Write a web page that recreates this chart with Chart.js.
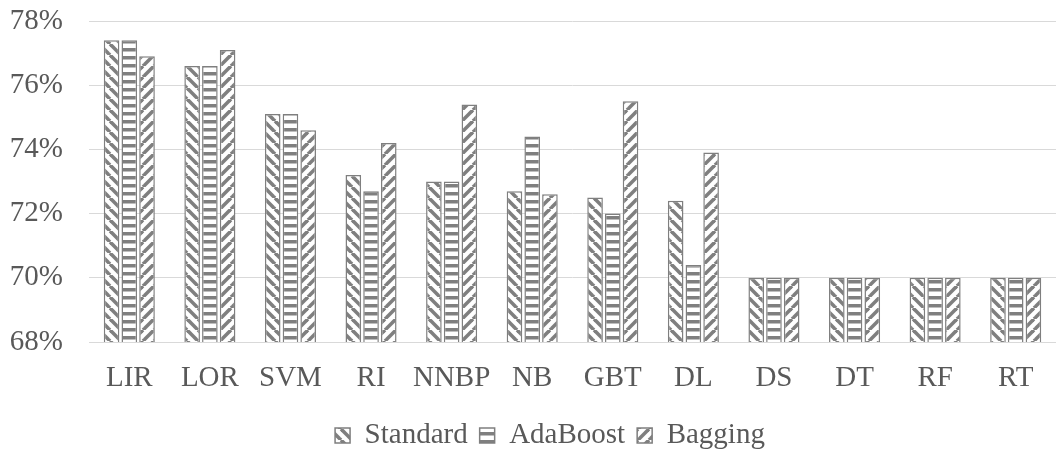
<!DOCTYPE html>
<html>
<head>
<meta charset="utf-8">
<script src="https://cdn.jsdelivr.net/npm/chart.js@4.4.0/dist/chart.umd.min.js"></script>
<style>
  html, body { margin: 0; padding: 0; background: #fff; }
  #wrap { width: 1056px; height: 450px; }
</style>
</head>
<body>
<div id="wrap"><canvas id="chart"></canvas></div>
<script>
const categories = ['LIR', 'LOR', 'SVM', 'RI', 'NNBP', 'NB', 'GBT', 'DL', 'DS', 'DT', 'RF', 'RT'];
const standard = [77.4, 76.6, 75.1, 73.2, 73.0, 72.7, 72.5, 72.4, 70.0, 70.0, 70.0, 70.0];
const adaBoost = [77.4, 76.6, 75.1, 72.7, 73.0, 74.4, 72.0, 70.4, 70.0, 70.0, 70.0, 70.0];
const bagging  = [76.9, 77.1, 74.6, 74.2, 75.4, 72.6, 75.5, 73.9, 70.0, 70.0, 70.0, 70.0];
const yTicks = [68, 70, 72, 74, 76, 78];

const GREY = '#7f7f7f';
const FONT = '"Liberation Serif", "DejaVu Serif", serif';

// fill tiles roughly like the Excel patterns
function makePattern(kind) {
  const c = document.createElement('canvas');
  const s = kind === 'h' ? 8 : 11;
  c.width = s; c.height = s;
  const g = c.getContext('2d');
  g.fillStyle = '#fff';
  g.fillRect(0, 0, s, s);
  g.fillStyle = GREY;
  g.strokeStyle = GREY;
  g.lineWidth = 3.6;
  if (kind === 'h') {
    g.fillRect(0, 0, s, 3.5);
  } else {
    for (let k = -s; k <= s; k += s) {
      g.beginPath();
      if (kind === 'down') { g.moveTo(k, 0); g.lineTo(k + s, s); }
      else { g.moveTo(k + s, 0); g.lineTo(k, s); }
      g.stroke();
    }
  }
  return g.createPattern(c, 'repeat');
}

const ds = (label, data, kind) => ({
  label: label,
  data: data,
  backgroundColor: makePattern(kind),
  borderColor: GREY,
  borderWidth: 1.5,
  categoryPercentage: 0.66,
  barPercentage: 0.88
});

// the original legend sits a little right of the page centre
const legendShift = {
  id: 'legendShift',
  afterLayout(chart) {
    chart.legend.left += 22;
    chart.legend.right += 22;
  }
};

new Chart(document.getElementById('chart'), {
  type: 'bar',
  data: {
    labels: categories,
    datasets: [
      ds('Standard', standard, 'down'),
      ds('AdaBoost', adaBoost, 'h'),
      ds('Bagging', bagging, 'up')
    ]
  },
  plugins: [legendShift],
  options: {
    responsive: true,
    maintainAspectRatio: false,
    animation: false,
    layout: { padding: { top: 21, right: 0, left: 0, bottom: -10 } },
    scales: {
      x: {
        grid: { display: false },
        border: { color: '#d9d9d9', width: 1 },
        ticks: {
          color: '#595959',
          font: { family: FONT, size: 29 },
          padding: 11,
          maxRotation: 0,
          minRotation: 0,
          autoSkip: false
        },
        afterFit: (axis) => { axis.height = 67; }
      },
      y: {
        min: 68,
        max: 78,
        afterBuildTicks: (axis) => { axis.ticks = yTicks.map(v => ({ value: v })); },
        afterFit: (axis) => {
          axis.width = 89;
          axis.paddingTop = 0;
          axis.paddingBottom = 0;
        },
        grid: { color: '#d9d9d9', lineWidth: 1, drawTicks: false },
        border: { display: false },
        ticks: {
          color: '#595959',
          font: { family: FONT, size: 29 },
          padding: 26,
          callback: (v) => v + '%'
        }
      }
    },
    plugins: {
      legend: {
        position: 'bottom',
        labels: {
          color: '#595959',
          font: { family: FONT, size: 29 },
          boxWidth: 15,
          boxHeight: 15,
          padding: 12
        }
      },
      tooltip: { enabled: false }
    }
  }
});
</script>
</body>
</html>
